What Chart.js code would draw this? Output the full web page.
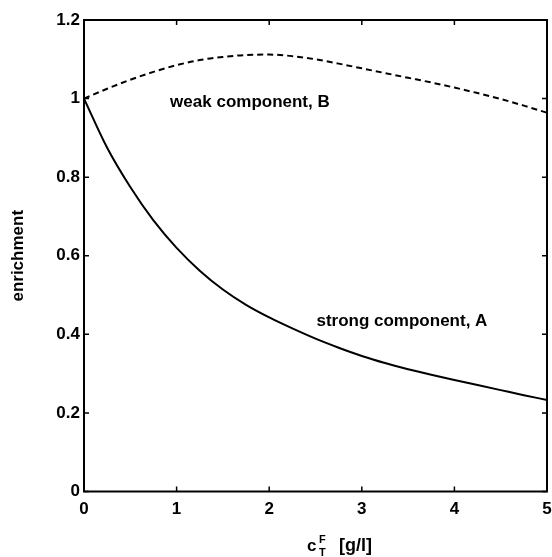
<!DOCTYPE html>
<html>
<head>
<meta charset="utf-8">
<script src="https://cdn.jsdelivr.net/npm/chart.js@4/dist/chart.umd.min.js"></script>
<style>
  html, body { margin: 0; padding: 0; background: #fff; }
  #wrap { width: 552px; height: 557px; position: relative; }
</style>
</head>
<body>
<div id="wrap"><canvas id="chart"></canvas></div>
<script>
// concentration c_T^F [g/l]
const conc = [0, 0.25, 0.5, 0.75, 1, 1.25, 1.5, 1.75, 2, 2.25, 2.5, 2.75, 3,
  3.25, 3.5, 3.75, 4, 4.25, 4.5, 4.75, 5];
// enrichment of the strong component A
const strongA = [1.0, 0.875, 0.775, 0.69, 0.62, 0.562, 0.514, 0.475, 0.443, 0.415, 0.389,
  0.366, 0.345, 0.327, 0.311, 0.297, 0.284, 0.271, 0.258, 0.245, 0.233];
// enrichment of the weak component B
const weakB = [1.0, 1.025, 1.048, 1.068, 1.085, 1.098, 1.106, 1.111, 1.112, 1.108, 1.1,
  1.089, 1.077, 1.065, 1.053, 1.041, 1.028, 1.014, 0.999, 0.982, 0.964];
const xTicks = [0, 1, 2, 3, 4, 5];
const yTicks = [0, 0.2, 0.4, 0.6, 0.8, 1, 1.2];

const FONT = 'Liberation Sans, Arial, sans-serif';

const toPoints = ys => conc.map((x, i) => ({ x, y: ys[i] }));

// box frame, inward ticks, curve labels and axis titles
const framePlugin = {
  id: 'frame',
  afterDraw(chart) {
    const { ctx, chartArea: a, scales } = chart;
    ctx.save();
    ctx.strokeStyle = '#000';
    ctx.lineWidth = 2;
    ctx.strokeRect(a.left, a.top, a.right - a.left, a.bottom - a.top);

    ctx.lineWidth = 1.5;
    ctx.beginPath();
    xTicks.forEach(v => {
      const px = scales.x.getPixelForValue(v);
      ctx.moveTo(px, a.bottom); ctx.lineTo(px, a.bottom - 5);
      ctx.moveTo(px, a.top); ctx.lineTo(px, a.top + 5);
    });
    yTicks.forEach(v => {
      const py = scales.y.getPixelForValue(v);
      ctx.moveTo(a.left, py); ctx.lineTo(a.left + 5, py);
      ctx.moveTo(a.right, py); ctx.lineTo(a.right - 5, py);
    });
    ctx.stroke();

    ctx.fillStyle = '#000';
    ctx.font = 'bold 17px ' + FONT;
    ctx.textBaseline = 'middle';
    ctx.textAlign = 'left';
    ctx.fillText('weak component, B', scales.x.getPixelForValue(0.93), scales.y.getPixelForValue(0.99));
    ctx.fillText('strong component, A', scales.x.getPixelForValue(2.51), scales.y.getPixelForValue(0.432));

    // y title
    ctx.save();
    ctx.translate(18, (a.top + a.bottom) / 2);
    ctx.rotate(-Math.PI / 2);
    ctx.textAlign = 'center';
    ctx.fillText('enrichment', 0, 0);
    ctx.restore();

    // x title: c with sub T and sup F
    ctx.textBaseline = 'alphabetic';
    ctx.textAlign = 'left';
    ctx.font = 'bold 17px ' + FONT;
    ctx.fillText('c', 307, 551);
    ctx.font = 'bold 11px ' + FONT;
    ctx.fillText('F', 319, 543);
    ctx.fillText('T', 319, 556);
    ctx.font = 'bold 18px ' + FONT;
    ctx.fillText('[g/l]', 339, 551);
    ctx.restore();
  }
};

new Chart(document.getElementById('chart'), {
  type: 'line',
  data: {
    datasets: [
      {
        label: 'strong component, A',
        data: toPoints(strongA),
        borderColor: '#000',
        borderWidth: 2,
        pointRadius: 0,
        cubicInterpolationMode: 'monotone',
        fill: false,
      },
      {
        label: 'weak component, B',
        data: toPoints(weakB),
        borderColor: '#000',
        borderWidth: 2,
        borderDash: [6, 4],
        pointRadius: 0,
        cubicInterpolationMode: 'monotone',
        fill: false,
      },
    ],
  },
  options: {
    responsive: true,
    maintainAspectRatio: false,
    animation: false,
    layout: { padding: { top: 20, right: 5, left: 0, bottom: 0 } },
    plugins: {
      legend: { display: false },
      tooltip: { enabled: false },
    },
    scales: {
      x: {
        type: 'linear',
        min: 0,
        max: 5,
        grid: { display: false, drawTicks: false },
        border: { display: false },
        afterFit: scale => {
          scale.height = 65.5;
          scale.paddingLeft = 0;
          scale.paddingRight = 0;
        },
        afterBuildTicks: scale => { scale.ticks = xTicks.map(v => ({ value: v })); },
        ticks: {
          color: '#000',
          padding: 8,
          maxRotation: 0,
          font: { family: FONT, size: 17, weight: 'bold' },
        },
      },
      y: {
        type: 'linear',
        min: 0,
        max: 1.2,
        grid: { display: false, drawTicks: false },
        border: { display: false },
        afterFit: scale => {
          scale.width = 84;
          scale.paddingTop = 0;
          scale.paddingBottom = 0;
        },
        afterBuildTicks: scale => { scale.ticks = yTicks.map(v => ({ value: v })); },
        ticks: {
          color: '#000',
          padding: 4,
          font: { family: FONT, size: 17, weight: 'bold' },
          callback: v => String(Math.round(v * 10) / 10),
        },
      },
    },
  },
  plugins: [framePlugin],
});
</script>
</body>
</html>
